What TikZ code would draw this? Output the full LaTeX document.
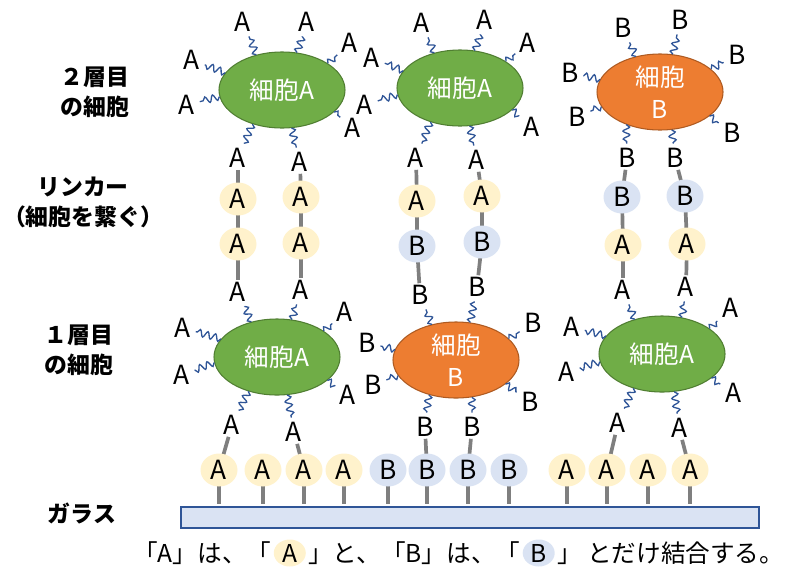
\documentclass[tikz,border=0pt]{standalone}
\usepackage{fontspec}
\setmainfont{Noto Sans CJK JP}
\usetikzlibrary{shapes.geometric,positioning,decorations.pathmorphing,backgrounds}

\definecolor{cellgreen}{HTML}{70AD47}
\definecolor{cellgreenline}{HTML}{507E32}
\definecolor{cellorange}{HTML}{ED7D31}
\definecolor{cellorangeline}{HTML}{AE5A21}
\definecolor{dotyellow}{HTML}{FFF2CC}
\definecolor{dotblue}{HTML}{DAE3F3}
\definecolor{waveblue}{HTML}{2F5597}
\definecolor{stickgray}{HTML}{7F7F7F}

\tikzset{
	cellA/.style={ellipse, draw=cellgreenline, fill=cellgreen, line width=0.6pt,
		minimum width=2.52cm, minimum height=1.52cm, inner sep=0pt,
		text=white, align=center, font=\fontsize{14}{18}\selectfont},
	cellB/.style={cellA, draw=cellorangeline, fill=cellorange},
	lig/.style={inner sep=2.5pt, font=\fontsize{15}{15}\selectfont},
	dotA/.style={ellipse, fill=dotyellow, minimum width=0.74cm, minimum height=0.66cm,
		inner sep=0pt, font=\fontsize{15}{15}\selectfont},
	dotB/.style={dotA, fill=dotblue},
	wave/.style={draw=waveblue, line width=0.75pt, decorate,
		decoration={snake, amplitude=1.9pt, segment length=4.5pt}},
	stick/.style={draw=stickgray, line width=2.1pt, shorten <=-1.5pt, shorten >=-1.5pt},
	sidetxt/.style={align=center, font=\fontsize{13}{17}\selectfont\bfseries},
	captxt/.style={inner sep=0pt, font=\fontsize{14}{14}\selectfont},
}

\begin{document}
\begin{tikzpicture}
	\useasboundingbox (0,0) rectangle (15.74,11.36);

	% cells, upper and lower layer
	\node[cellA] (top1) at (5.64,9.56) {細胞A};
	\node[cellA] (top2) at (9.20,9.60) {細胞A};
	\node[cellB] (top3) at (13.20,9.52) {細胞\\B};
	\node[cellA] (bot1) at (5.54,4.22) {細胞A};
	\node[cellB] (bot2) at (9.12,4.16) {細胞\\B};
	\node[cellA] (bot3) at (13.24,4.28) {細胞A};

	% free tips, upper layer
	\node[lig] (top1nw) at (4.86,10.92) {A};
	\node[lig] (top1ne) at (6.14,10.92) {A};
	\node[lig] (top1e) at (7.00,10.50) {A};
	\node[lig] (top1w) at (3.84,10.16) {A};
	\node[lig] (top1sw) at (3.74,9.26) {A};
	\node[lig] (top1se) at (7.06,8.80) {A};
	\node[lig] (top2nw) at (8.44,10.90) {A};
	\node[lig] (top2ne) at (9.70,10.96) {A};
	\node[lig] (top2e) at (10.56,10.50) {A};
	\node[lig] (top2w) at (7.44,10.20) {A};
	\node[lig] (top2sw) at (7.30,9.26) {A};
	\node[lig] (top2se) at (10.64,8.82) {A};
	\node[lig] (top3nw) at (12.46,10.80) {B};
	\node[lig] (top3ne) at (13.60,10.96) {B};
	\node[lig] (top3e) at (14.74,10.26) {B};
	\node[lig] (top3w) at (11.40,9.90) {B};
	\node[lig] (top3sw) at (11.54,9.02) {B};
	\node[lig] (top3se) at (14.64,8.70) {B};

	% linkers
	\node[lig] (k1a) at (4.76,8.20) {A};
	\node[dotA] (k1b) at (4.76,7.38) {A};
	\node[dotA] (k1c) at (4.76,6.48) {A};
	\node[lig] (k1d) at (4.76,5.52) {A};
	\node[lig] (k2a) at (6.00,8.12) {A};
	\node[dotA] (k2b) at (6.02,7.42) {A};
	\node[dotA] (k2c) at (6.02,6.50) {A};
	\node[lig] (k2d) at (6.02,5.56) {A};
	\node[lig] (k3a) at (8.32,8.20) {A};
	\node[dotA] (k3b) at (8.34,7.34) {A};
	\node[dotB] (k3c) at (8.34,6.44) {B};
	\node[lig] (k3d) at (8.40,5.46) {B};
	\node[lig] (k4a) at (9.54,8.16) {A};
	\node[dotA] (k4b) at (9.64,7.44) {A};
	\node[dotB] (k4c) at (9.64,6.52) {B};
	\node[lig] (k4d) at (9.54,5.62) {B};
	\node[lig] (k5a) at (12.54,8.20) {B};
	\node[dotB] (k5b) at (12.44,7.42) {B};
	\node[dotA] (k5c) at (12.46,6.46) {A};
	\node[lig] (k5d) at (12.46,5.56) {A};
	\node[lig] (k6a) at (13.50,8.20) {B};
	\node[dotB] (k6b) at (13.70,7.44) {B};
	\node[dotA] (k6c) at (13.74,6.48) {A};
	\node[lig] (k6d) at (13.72,5.62) {A};

	% free tips, lower layer
	\node[lig] (bot1e) at (6.90,5.12) {A};
	\node[lig] (bot1w) at (3.66,4.80) {A};
	\node[lig] (bot1sw) at (3.64,3.86) {A};
	\node[lig] (bot1se) at (6.96,3.46) {A};
	\node[lig] (bot1bl) at (4.64,2.86) {A};
	\node[lig] (bot1br) at (5.88,2.72) {A};
	\node[lig] (bot2e) at (10.66,4.90) {B};
	\node[lig] (bot2w) at (7.34,4.50) {B};
	\node[lig] (bot2sw) at (7.46,3.66) {B};
	\node[lig] (bot2se) at (10.60,3.32) {B};
	\node[lig] (bot2bl) at (8.50,2.82) {B};
	\node[lig] (bot2br) at (9.44,2.82) {B};
	\node[lig] (bot3e) at (14.60,5.20) {A};
	\node[lig] (bot3w) at (11.44,4.82) {A};
	\node[lig] (bot3sw) at (11.34,3.92) {A};
	\node[lig] (bot3se) at (14.66,3.50) {A};
	\node[lig] (bot3bl) at (12.36,2.90) {A};
	\node[lig] (bot3br) at (13.58,2.80) {A};

	% glass with its spots
	\node[rectangle, draw=waveblue, fill=dotblue, line width=0.9pt, inner sep=0pt,
		minimum width=11.56cm, minimum height=0.42cm] (glass) at (9.40,1.01) {};
	\foreach \x/\l [count=\i] in {4.38/A, 5.26/A, 6.08/A, 6.88/A, 7.76/B, 8.54/B,
		9.36/B, 10.18/B, 11.34/A, 12.14/A, 12.96/A, 13.80/A}
		\node[dot\l] (g\i) at (\x,1.96) {\l};

	% wavy receptors
	\foreach \a/\t in {126/top1nw, 68/top1ne, 30/top1e, 163/top1w, 186/top1sw, 337/top1se, 229/k1a, 284/k2a}
		\draw[wave] (top1.\a) -- (\t);
	\foreach \a/\t in {126/top2nw, 68/top2ne, 30/top2e, 163/top2w, 186/top2sw, 337/top2se, 229/k3a, 284/k4a}
		\draw[wave] (top2.\a) -- (\t);
	\foreach \a/\t in {124/top3nw, 71/top3ne, 24/top3e, 168/top3w, 194/top3sw, 334/top3se, 224/k5a, 287/k6a}
		\draw[wave] (top3.\a) -- (\t);
	\foreach \a/\t in {126/k1d, 68/k2d, 29/bot1e, 162/bot1w, 185/bot1sw, 335/bot1se, 230/bot1bl, 285/bot1br}
		\draw[wave] (bot1.\a) -- (\t);
	\foreach \a/\t in {124/k3d, 69/k4d, 22/bot2e, 170/bot2w, 195/bot2sw, 334/bot2se, 232/bot2bl, 293/bot2br}
		\draw[wave] (bot2.\a) -- (\t);
	\foreach \a/\t in {128/k5d, 61/k6d, 28/bot3e, 162/bot3w, 187/bot3sw, 334/bot3se, 230/bot3bl, 288/bot3br}
		\draw[wave] (bot3.\a) -- (\t);

	% gray sticks behind the spots
	\begin{scope}[on background layer]
		\foreach \i in {1,...,6} {
			\draw[stick] (k\i a) -- (k\i b);
			\draw[stick] (k\i b) -- (k\i c);
			\draw[stick] (k\i c) -- (k\i d);
		}
		\draw[stick] (bot1bl) -- (g1);
		\draw[stick] (bot1br) -- (g3);
		\draw[stick] (bot2bl) -- (g6);
		\draw[stick] (bot2br) -- (g7);
		\draw[stick] (bot3bl) -- (g10);
		\draw[stick] (bot3br) -- (g12);
		\foreach \i in {1,...,12}
			\draw[stick, shorten >=1.5pt] (g\i) -- (g\i |- glass.north);
	\end{scope}

	% row labels
	\node[sidetxt] (lab2) at (1.90,9.52) {２層目\\の細胞};
	\node[sidetxt] (labk) at (1.66,7.32) {リンカー\\（細胞を繋ぐ）};
	\node[sidetxt] (lab1) at (1.58,4.36) {１層目\\の細胞};
	\node[sidetxt] (labg) at (1.64,1.10) {ガラス};

	% note under the glass
	\node[captxt, anchor=west] (cap1) at (2.66,0.30) {「A」は、「};
	\node[dotA, minimum width=0.64cm, minimum height=0.54cm, font=\fontsize{14}{14}\selectfont,
		right=1pt of cap1] (capA) {A};
	\node[captxt, right=1pt of capA] (cap2) {」と、「B」は、「};
	\node[dotB, minimum width=0.64cm, minimum height=0.54cm, font=\fontsize{14}{14}\selectfont,
		right=1pt of cap2] (capB) {B};
	\node[captxt, right=1pt of capB] (cap3) {」\ とだけ結合する。};
\end{tikzpicture}
\end{document}
